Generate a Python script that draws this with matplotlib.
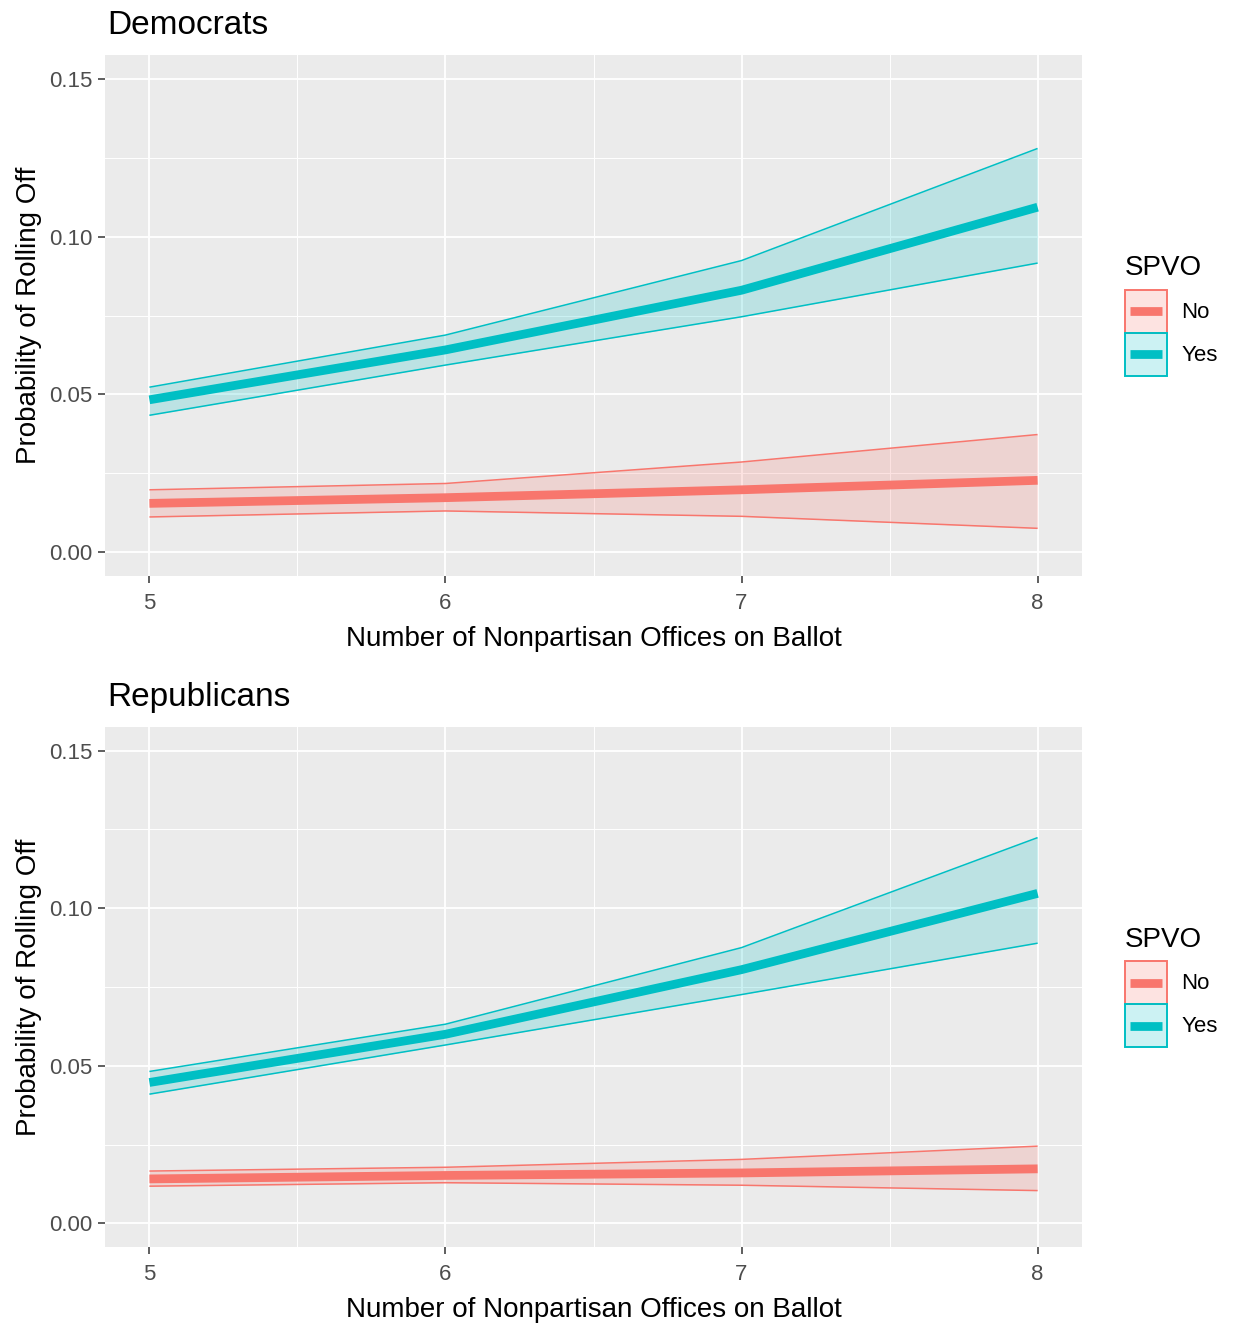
import matplotlib
matplotlib.use("Agg")
import matplotlib.pyplot as plt
from matplotlib.colors import to_rgba
from matplotlib.lines import Line2D
from matplotlib.patches import Rectangle
from matplotlib.legend_handler import HandlerBase
from matplotlib.ticker import MultipleLocator

plt.rcParams['font.family'] = ['Liberation Sans', 'DejaVu Sans']

# ---- data ----
offices = [5, 6, 7, 8]
groups = ["No", "Yes"]

dem_no_mean = [0.0155, 0.0173, 0.0198, 0.0228]
dem_no_low = [0.0112, 0.0131, 0.0114, 0.0076]
dem_no_high = [0.0198, 0.0218, 0.0286, 0.0373]
dem_yes_mean = [0.0483, 0.0641, 0.0830, 0.1093]
dem_yes_low = [0.0434, 0.0593, 0.0746, 0.0916]
dem_yes_high = [0.0523, 0.0688, 0.0924, 0.1279]

rep_no_mean = [0.0141, 0.0152, 0.0160, 0.0173]
rep_no_low = [0.0118, 0.0129, 0.0121, 0.0104]
rep_no_high = [0.0166, 0.0178, 0.0203, 0.0245]
rep_yes_mean = [0.0447, 0.0600, 0.0805, 0.1047]
rep_yes_low = [0.0410, 0.0566, 0.0726, 0.0889]
rep_yes_high = [0.0482, 0.0632, 0.0875, 0.1224]

colors = {"No": "#F8766D", "Yes": "#00BFC4"}

panels = [
    ("Democrats", {"No": (dem_no_mean, dem_no_low, dem_no_high),
                   "Yes": (dem_yes_mean, dem_yes_low, dem_yes_high)}),
    ("Republicans", {"No": (rep_no_mean, rep_no_low, rep_no_high),
                     "Yes": (rep_yes_mean, rep_yes_low, rep_yes_high)}),
]


class KeyHandler(HandlerBase):
    # ggplot-like key: tinted box with coloured border and a thick line across
    def create_artists(self, legend, orig_handle, xdescent, ydescent,
                       width, height, fontsize, trans):
        c = orig_handle.get_color()
        box = Rectangle((-xdescent, -ydescent), width, height,
                        facecolor=to_rgba(c, 0.2), edgecolor=c, lw=1.4,
                        transform=trans)
        yc = -ydescent + height / 2
        line = Line2D([-xdescent + 0.12 * width, -xdescent + 0.88 * width],
                      [yc, yc], color=c, lw=6.3, solid_capstyle='butt',
                      transform=trans)
        return [box, line]


W, H = 1235, 1325
fig = plt.figure(figsize=(W / 100, H / 100), dpi=100)

# panel boxes in pixels: (left, top, right, bottom)
boxes = [(105, 55, 1082, 576), (105, 727, 1082, 1247)]

for (title, series), (l, t, r, b) in zip(panels, boxes):
    ax = fig.add_axes([l / W, 1 - b / H, (r - l) / W, (b - t) / H])
    ax.set_facecolor("#EBEBEB")
    for s in ax.spines.values():
        s.set_visible(False)

    for g in groups:
        mean, low, high = series[g]
        c = colors[g]
        ax.fill_between(offices, low, high, color=c, alpha=0.2, lw=0, zorder=2)
        ax.plot(offices, low, color=c, lw=1.1, zorder=3, solid_capstyle='butt')
        ax.plot(offices, high, color=c, lw=1.1, zorder=3, solid_capstyle='butt')
        ax.plot(offices, mean, color=c, lw=6.3, zorder=4, solid_capstyle='butt')

    ax.set_xlim(4.85, 8.15)
    ax.set_ylim(-0.0075, 0.1575)
    ax.xaxis.set_major_locator(MultipleLocator(1))
    ax.xaxis.set_minor_locator(MultipleLocator(0.5))
    ax.yaxis.set_major_locator(MultipleLocator(0.05))
    ax.yaxis.set_minor_locator(MultipleLocator(0.025))
    ax.set_yticks([0, 0.05, 0.10, 0.15])
    ax.set_yticklabels(["0.00", "0.05", "0.10", "0.15"])
    ax.grid(which='major', color='white', lw=1.3, zorder=1)
    ax.grid(which='minor', color='white', lw=0.7, zorder=1)
    ax.set_axisbelow(True)
    ax.tick_params(which='major', length=5, width=1.1, color='#333333',
                   labelsize=16, labelcolor='#4D4D4D')
    ax.tick_params(axis='y', which='major', pad=4)
    ax.tick_params(axis='x', which='major', pad=7)
    ax.tick_params(which='minor', length=0)

    ax.set_xlabel("Number of Nonpartisan Offices on Ballot", fontsize=20, labelpad=9)
    ax.set_ylabel("Probability of Rolling Off", fontsize=20, labelpad=5)
    ax.set_title(title, loc='left', fontsize=24, pad=15, x=0.002)

    handles = [Line2D([], [], color=colors[g]) for g in groups]
    leg = ax.legend(handles, groups, title="SPVO", loc='center left',
                    bbox_to_anchor=(1.044, 0.5), frameon=False, fontsize=16,
                    title_fontsize=20, handlelength=1.89, handleheight=2.6,
                    labelspacing=0, handletextpad=0.65, borderpad=0,
                    borderaxespad=0, alignment='left',
                    handler_map={Line2D: KeyHandler()})
    leg._legend_box.sep = 6

fig.savefig("out.png", dpi=100)
